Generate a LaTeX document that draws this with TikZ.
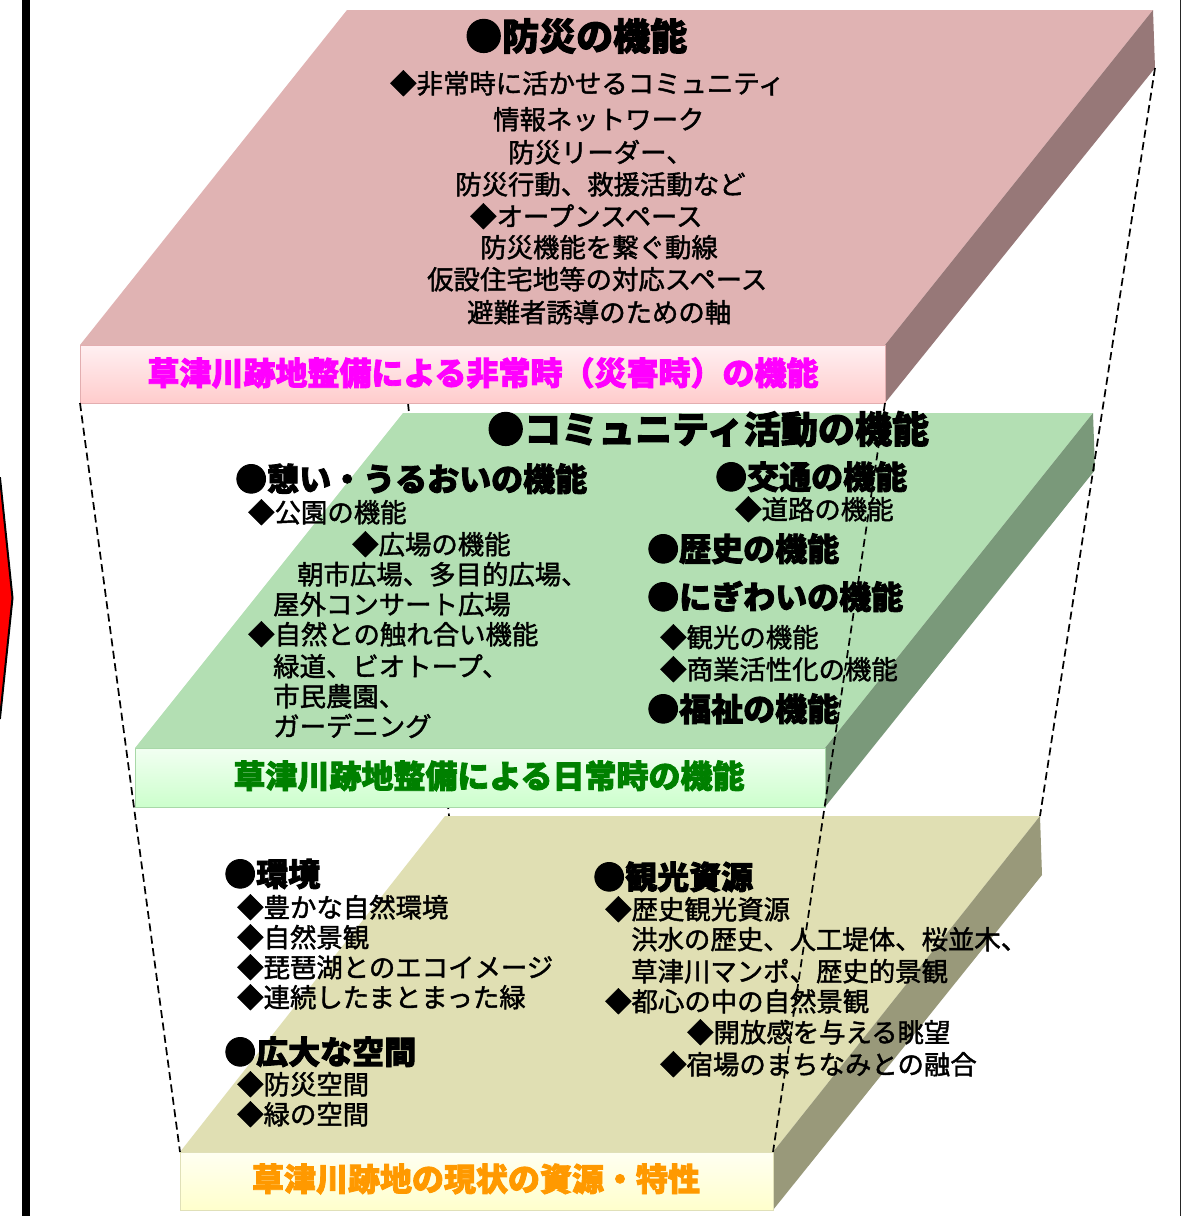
\documentclass[tikz,border=0pt]{standalone}
\usepackage{fontspec}
\newfontfamily\jpbody{Noto Sans CJK JP}[FakeBold=1.6]
\newfontfamily\jphead{Noto Sans CJK JP}[BoldFeatures={FakeBold=2.6}]
\definecolor{pinktop}{HTML}{E0B3B3}
\definecolor{pinkside}{HTML}{977878}
\definecolor{pinkfrontA}{HTML}{FFF0F2}
\definecolor{pinkfrontB}{HTML}{FFCCCC}
\definecolor{pinkedge}{HTML}{E3AEB0}
\definecolor{greentop}{HTML}{B3DFB3}
\definecolor{greenside}{HTML}{7A997A}
\definecolor{greenfrontA}{HTML}{F2FFF2}
\definecolor{greenfrontB}{HTML}{CCFFCC}
\definecolor{greenedge}{HTML}{A8D8A8}
\definecolor{olivetop}{HTML}{E0DFB3}
\definecolor{oliveside}{HTML}{99997A}
\definecolor{olivefrontA}{HTML}{FFFFF2}
\definecolor{olivefrontB}{HTML}{FFFFCC}
\definecolor{oliveedge}{HTML}{E0E0B8}
\definecolor{labmag}{HTML}{FF00FF}
\definecolor{labgreen}{HTML}{008000}
\definecolor{laborange}{HTML}{FF9900}
\begin{document}
\begin{tikzpicture}[x=1pt,y=-1pt,
  bodytxt/.style={anchor=west, inner sep=0pt, text height=22.5pt, text depth=4pt, font=\jpbody\fontsize{26.4}{30}\selectfont},
  headM/.style={anchor=west, inner sep=0pt, text height=27pt, text depth=5pt, font=\jphead\bfseries\fontsize{32}{36}\selectfont},
  headL/.style={anchor=west, inner sep=0pt, text height=31.5pt, text depth=5.5pt, font=\jphead\bfseries\fontsize{37}{41}\selectfont},
  labeltxt/.style={inner sep=0pt, text height=27pt, text depth=5pt, font=\jphead\bfseries\fontsize{32}{36}\selectfont},
  dashline/.style={draw=black, line width=1.7pt, dash pattern=on 8pt off 4.5pt},
  frontedge/.style={line width=1pt}
]
\useasboundingbox (0,0) rectangle (1183,1216);
\fill[white] (0,0) rectangle (1183,1216);

% left arrow and bar, right frame line
\filldraw[fill=red, draw=black, line width=2pt] (-6,478) -- (0,478) -- (12.5,598) -- (0,718) -- (-6,718) -- cycle;
\fill[black] (22,0) rectangle (29.5,1216);
\draw[black!85, line width=1.5pt] (1180.5,0) -- (1180.5,1216);

% slab corners
\coordinate (A1) at (347,10);  \coordinate (A2) at (1153,10);
\coordinate (A3) at (885,345); \coordinate (A4) at (80,345);
\coordinate (A5) at (885,403); \coordinate (A6) at (80,403);
\coordinate (A7) at (1155,68);
\coordinate (B1) at (403,413); \coordinate (B2) at (1093,413);
\coordinate (B3) at (825,748); \coordinate (B4) at (135,748);
\coordinate (B5) at (825,807); \coordinate (B6) at (135,807);
\coordinate (B7) at (1095,470);
\coordinate (C1) at (445,816); \coordinate (C2) at (1040,816);
\coordinate (C3) at (773,1152); \coordinate (C4) at (180,1152);
\coordinate (C5) at (773,1210); \coordinate (C6) at (180,1210);
\coordinate (C7) at (1042,875);
\coordinate (H1) at (408,403); \coordinate (H2) at (449,816);

% hidden line behind the middle slab
\draw[dashline] (H1) -- (H2);

% pink slab
\fill[pinktop] (A1) -- (A2) -- (A3) -- (A4) -- cycle;
\fill[pinkside] (A2) -- (A7) -- (A5) -- (A3) -- cycle;
\shade[top color=pinkfrontA, bottom color=pinkfrontB] (A4) rectangle (A5);
\draw[pinkedge, frontedge] (A4) rectangle (A5);

% green slab
\fill[greentop] (B1) -- (B2) -- (B3) -- (B4) -- cycle;
\fill[greenside] (B2) -- (B7) -- (B5) -- (B3) -- cycle;
\shade[top color=greenfrontA, bottom color=greenfrontB] (B4) rectangle (B5);
\draw[greenedge, frontedge] (B4) rectangle (B5);

% olive slab
\fill[olivetop] (C1) -- (C2) -- (C3) -- (C4) -- cycle;
\fill[oliveside] (C2) -- (C7) -- (C5) -- (C3) -- cycle;
\shade[top color=olivefrontA, bottom color=olivefrontB] (C4) rectangle (C5);
\draw[oliveedge, frontedge] (C4) rectangle (C5);

% labels on front faces
\node[labeltxt, text=labmag] (labA) at (483,374) {草津川跡地整備による非常時（災害時）の機能};
\node[labeltxt, text=labgreen] (labB) at (489,777) {草津川跡地整備による日常時の機能};
\node[labeltxt, text=laborange] (labC) at (476,1180) {草津川跡地の現状の資源・特性};

% top slab text
\node[headL] (t0) at (465,37) {●防災の機能};
\node[bodytxt] (t1) at (390,84) {◆非常時に活かせるコミュニティ};
\node[bodytxt] (t2) at (493,120) {情報ネットワーク};
\node[bodytxt] (t3) at (508,153) {防災リーダー、};
\node[bodytxt] (t4) at (455,185) {防災行動、救援活動など};
\node[bodytxt] (t5) at (470,217) {◆オープンスペース};
\node[bodytxt] (t6) at (480,248) {防災機能を繋ぐ動線};
\node[bodytxt] (t7) at (427,280) {仮設住宅地等の対応スペース};
\node[bodytxt] (t8) at (467,313) {避難者誘導のための軸};

% middle slab text
\node[headL] (m0) at (487,430) {●コミュニティ活動の機能};
\node[headM] (m1) at (235,480) {●憩い・うるおいの機能};
\node[bodytxt] (m2) at (248,513) {◆公園の機能};
\node[bodytxt] (m3) at (352,545) {◆広場の機能};
\node[bodytxt] (m4) at (297,575) {朝市広場、多目的広場、};
\node[bodytxt] (m5) at (273,605) {屋外コンサート広場};
\node[bodytxt] (m6) at (248,635) {◆自然との触れ合い機能};
\node[bodytxt] (m7) at (273,667) {緑道、ビオトープ、};
\node[bodytxt] (m8) at (273,697) {市民農園、};
\node[bodytxt] (m9) at (273,727) {ガーデニング};
\node[headM] (r1) at (715,478) {●交通の機能};
\node[bodytxt] (r2) at (735,510) {◆道路の機能};
\node[headM] (r3) at (647,550) {●歴史の機能};
\node[headM] (r4) at (647,598) {●にぎわいの機能};
\node[bodytxt] (r5) at (660,638) {◆観光の機能};
\node[bodytxt] (r6) at (660,670) {◆商業活性化の機能};
\node[headM] (r7) at (647,710) {●福祉の機能};

% bottom slab text
\node[headM] (b0) at (224,875) {●環境};
\node[bodytxt] (b1) at (237,908) {◆豊かな自然環境};
\node[bodytxt] (b2) at (237,938) {◆自然景観};
\node[bodytxt] (b3) at (237,968) {◆琵琶湖とのエコイメージ};
\node[bodytxt] (b4) at (237,998) {◆連続したまとまった緑};
\node[headM] (b5) at (224,1053) {●広大な空間};
\node[bodytxt] (b6) at (237,1085) {◆防災空間};
\node[bodytxt] (b7) at (237,1115) {◆緑の空間};
\node[headM] (s0) at (593,878) {●観光資源};
\node[bodytxt] (s1) at (605,910) {◆歴史観光資源};
\node[bodytxt] (s2) at (631,940) {洪水の歴史、人工堤体、桜並木、};
\node[bodytxt] (s3) at (631,972) {草津川マンポ、歴史的景観};
\node[bodytxt] (s4) at (605,1002) {◆都心の中の自然景観};
\node[bodytxt] (s5) at (687,1033) {◆開放感を与える眺望};
\node[bodytxt] (s6) at (660,1065) {◆宿場のまちなみとの融合};

% dashed connectors between slabs
\draw[dashline] (A6) -- (C4);
\draw[dashline] (A5) -- (C3);
\draw[dashline] (A7) -- (C2);
\end{tikzpicture}
\end{document}
